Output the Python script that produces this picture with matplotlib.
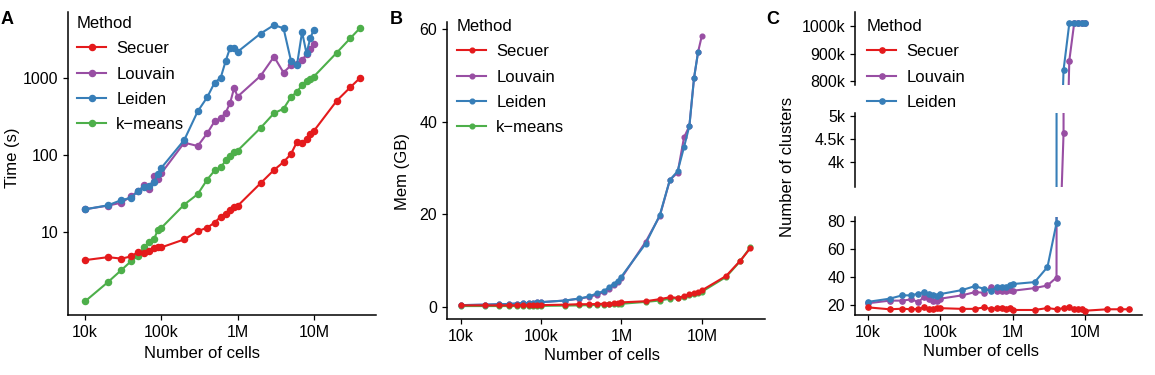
import matplotlib
matplotlib.use('Agg')
import matplotlib.pyplot as plt
import numpy as np

plt.rcParams['font.family'] = ['Liberation Sans', 'DejaVu Sans']

W, H = 1155, 375

# number of cells (x)
cells = [1e4, 2e4, 3e4, 4e4, 5e4, 6e4, 7e4, 8e4, 9e4,
         1e5, 2e5, 3e5, 4e5, 5e5, 6e5, 7e5, 8e5, 9e5,
         1e6, 2e6, 3e6, 4e6, 5e6, 6e6, 7e6, 8e6, 9e6,
         1e7, 2e7, 3e7, 4e7]

# A: run time (s)
time_secuer = [4.3, 4.7, 4.5, 4.8, 5.5, 5.3, 5.7, 6.1, 6.3, 6.3, 8.0, 10.2, 11.4, 13.2,
               15.8, 17.2, 19.3, 21.0, 21.8, 43, 64, 81, 103, 148, 145, 160, 188, 206,
               510, 760, 1000]
time_kmeans = [1.25, 2.23, 3.2, 4.15, 4.9, 6.45, 7.4, 8.0, 10.6, 11.3, 22.7, 31, 48, 63,
               69, 85, 96, 108, 114, 225, 350, 400, 565, 665, 810, 910, 970, 1050,
               2150, 3300, 4450]
time_louvain = [19.7, 22, 24, 29, 34, 40.5, 36.6, 52.6, 48.5, 58, 145, 131, 192, 275,
                300, 357, 480, 745, 575, 1070, 1900, 1180, 1470, 1530, 1730, 2030,
                2400, 2750]
time_leiden = [19.7, 22.2, 26, 27.7, 34.5, 38, 40, 44, 57, 68, 157, 370, 565, 875,
               1010, 1690, 2500, 2480, 2200, 3800, 4900, 4450, 1690, 1480, 3990, 2100,
               3350, 4280]

# B: memory (GB)
mem_secuer = [0.25, 0.25, 0.25, 0.25, 0.25, 0.28, 0.28, 0.3, 0.3, 0.3, 0.4, 0.5, 0.5,
              0.55, 0.6, 0.65, 0.75, 0.8, 0.9, 1.15, 1.6, 2.0, 1.9, 2.2, 2.7, 3.0, 3.2,
              3.5, 6.6, 9.9, 12.6]
mem_kmeans = [0.1, 0.1, 0.1, 0.1, 0.1, 0.12, 0.12, 0.15, 0.15, 0.15, 0.2, 0.25, 0.3,
              0.35, 0.4, 0.45, 0.5, 0.55, 0.6, 1.0, 1.3, 1.7, 1.8, 2.0, 2.5, 2.8, 2.9,
              3.2, 6.4, 9.8, 12.8]
mem_louvain = [0.3, 0.4, 0.5, 0.55, 0.65, 0.7, 0.8, 0.85, 0.9, 0.95, 1.3, 1.7, 2.1,
               2.6, 3.1, 3.9, 4.6, 5.3, 6.2, 14.0, 19.6, 27.4, 29.0, 36.6, 39.1, 49.5,
               55.2, 58.6]
mem_leiden = [0.3, 0.4, 0.5, 0.55, 0.65, 0.7, 0.8, 0.85, 0.9, 0.95, 1.3, 1.75, 2.2,
              2.9, 3.3, 4.2, 4.9, 5.6, 6.5, 13.6, 19.8, 27.4, 29.3, 34.5, 39.1, 49.5,
              55.2]

# C: number of clusters
clu_secuer = [18.1, 16.7, 17.1, 16.7, 17, 18, 17, 17, 17.5, 17.5, 17, 17, 18, 17, 17.5,
              17.5, 17, 17.5, 16.2, 16.2, 17.6, 16.7, 17.5, 18, 17, 16.7, 16.7, 15.7,
              16.7, 16.7, 16.7]
clu_louvain = [21, 22.9, 22.9, 23.8, 21.9, 25.7, 24.3, 22.9, 22.4, 24.3, 26.7, 29,
               28.6, 32.4, 30, 30, 30, 30.5, 30, 31.9, 33.8, 39.5, 4630, 875000,
               1010000, 1010000, 1010000, 1010000]
clu_leiden = [22, 24.3, 26.7, 26.7, 28, 29, 27.6, 27, 26, 27.6, 30.5, 33.3, 31.4, 30,
              32.4, 32.4, 32.8, 33.8, 34.8, 36.2, 47, 78.6, 841000, 1010000, 1010000,
              1010000, 1010000, 1010000]

x_ticks = [1e4, 1e5, 1e6, 1e7]
x_labels = ['10k', '100k', '1M', '10M']
timeticks = [10, 100, 1000]
memticks = [0, 20, 40, 60]
c_low_ticks = [20, 40, 60, 80]
c_mid_ticks = [4000, 4500, 5000]
c_mid_labels = ['4k', '4.5k', '5k']
c_top_ticks = [800000, 900000, 1000000]
c_top_labels = ['800k', '900k', '1000k']

colors = {'Secuer': '#E41A1C', 'Louvain': '#984EA3', 'Leiden': '#377EB8',
          'k\u2212means': '#4DAF4A'}
zord = {'Secuer': 5, 'Louvain': 3, 'Leiden': 4, 'k\u2212means': 2}

TICK = 11.5
LAB = 12


def px_axes(fig, left, top, right, bottom):
    return fig.add_axes([left / W, 1 - bottom / H, (right - left) / W, (bottom - top) / H])


def fx(x):
    return x / W


def fy(y):
    return 1 - y / H


def style(ax, bottom=True):
    for s in ['top', 'right']:
        ax.spines[s].set_visible(False)
    ax.spines['left'].set_linewidth(1.1)
    ax.spines['bottom'].set_linewidth(1.1)
    if not bottom:
        ax.spines['bottom'].set_visible(False)
        ax.tick_params(axis='x', bottom=False, labelbottom=False)
    ax.tick_params(width=0.9, length=3.6, pad=3.5, labelsize=TICK, colors='black')
    ax.minorticks_off()


def draw(ax, series, ms):
    for name, x, y in series:
        ax.plot(x, y, '-o', color=colors[name], lw=1.5, ms=ms, label=name,
                zorder=zord[name], clip_on=True)


def xaxis(ax, lo, hi):
    ax.set_xscale('log')
    ax.set_xlim(lo, hi)
    ax.set_xticks(x_ticks)
    ax.set_xticklabels(x_labels)
    ax.minorticks_off()


def legend(handles, labels, x, y):
    fig.legend(handles, labels, title='Method', loc='upper left',
               bbox_to_anchor=(fx(x), fy(y)), frameon=False, fontsize=LAB,
               title_fontsize=LAB, handlelength=1.75, handletextpad=0.6,
               labelspacing=0.62, alignment='left', borderpad=0, borderaxespad=0)


fig = plt.figure(figsize=(W / 100, H / 100), dpi=100)

# ---- A ----
axA = px_axes(fig, 68, 12, 376, 315)
draw(axA, [('Secuer', cells, time_secuer), ('Louvain', cells[:28], time_louvain),
           ('Leiden', cells[:28], time_leiden), ('k\u2212means', cells, time_kmeans)], 4.4)
xaxis(axA, 10 ** 3.777, 10 ** 7.814)
axA.set_yscale('log')
axA.set_ylim(10 ** -0.08, 10 ** 3.86)
axA.set_yticks(timeticks)
axA.set_yticklabels([str(t) for t in timeticks])
style(axA)
fig.text(fx(202), fy(354), 'Number of cells', ha='center', va='center', fontsize=LAB)
fig.text(fx(13), fy(158), 'Time (s)', rotation=90, ha='center', va='center', fontsize=LAB)
h, l = axA.get_legend_handles_labels()
legend(h, l, 77, 16)

# ---- B ----
axB = px_axes(fig, 447, 22, 765, 319)
draw(axB, [('Secuer', cells, mem_secuer), ('Louvain', cells[:28], mem_louvain),
           ('Leiden', cells[:27], mem_leiden), ('k\u2212means', cells, mem_kmeans)], 3.4)
xaxis(axB, 10 ** 3.829, 10 ** 7.786)
axB.set_ylim(-2.7, 61.6)
axB.set_yticks(memticks)
style(axB)
fig.text(fx(602), fy(356), 'Number of cells', ha='center', va='center', fontsize=LAB)
fig.text(fx(402), fy(172), 'Mem (GB)', rotation=90, ha='center', va='center', fontsize=LAB)
h, l = axB.get_legend_handles_labels()
legend(h, l, 457, 19)

# ---- C (broken y axis) ----
c_series = [('Secuer', cells, clu_secuer), ('Louvain', cells[:28], clu_louvain),
            ('Leiden', cells[:28], clu_leiden)]
axC3 = px_axes(fig, 855, 12, 1142, 85)
axC2 = px_axes(fig, 855, 113, 1142, 187)
axC1 = px_axes(fig, 855, 217, 1142, 315)
for ax in (axC1, axC2, axC3):
    draw(ax, c_series, 3.8)
    xaxis(ax, 10 ** 3.825, 10 ** 7.78)
axC1.set_ylim(12.6, 82.9)
axC1.set_yticks(c_low_ticks)
axC2.set_ylim(3455, 5075)
axC2.set_yticks(c_mid_ticks)
axC2.set_yticklabels(c_mid_labels)
axC3.set_ylim(786600, 1051600)
axC3.set_yticks(c_top_ticks)
axC3.set_yticklabels(c_top_labels)
style(axC1)
style(axC2, bottom=False)
style(axC3, bottom=False)
fig.text(fx(981), fy(352), 'Number of cells', ha='center', va='center', fontsize=LAB)
fig.text(fx(788), fy(167), 'Number of clusters', rotation=90, ha='center',
         va='center', fontsize=LAB)
h, l = axC1.get_legend_handles_labels()
legend(h, l, 867, 19)

# panel letters
for lab, xp in [('A', 1), ('B', 390), ('C', 766)]:
    fig.text(fx(xp), fy(20), lab, fontsize=13, fontweight='bold', va='center')

fig.savefig('out.png', dpi=100)
